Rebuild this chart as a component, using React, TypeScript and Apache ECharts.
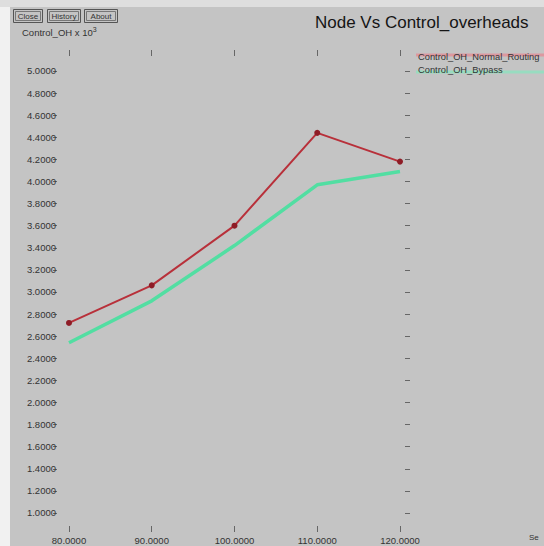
import React, { useEffect, useRef } from "react";
import * as echarts from "echarts";

const xValues = [80, 90, 100, 110, 120];
const normalRouting = [2.72, 3.06, 3.6, 4.44, 4.18];
const bypass = [2.54, 2.92, 3.42, 3.97, 4.09];
const xTicks = [80, 90, 100, 110, 120];
const yTicks = [1.0, 1.2, 1.4, 1.6, 1.8, 2.0, 2.2, 2.4, 2.6, 2.8, 3.0, 3.2, 3.4, 3.6, 3.8, 4.0, 4.2, 4.4, 4.6, 4.8, 5.0];
const seriesNames = ["Control_OH_Normal_Routing", "Control_OH_Bypass"];
const titleText = "Node Vs Control_overheads";
const buttons = ["Close", "History", "About"];
const xUnit = "Se";

export default function App() {
  const ref = useRef<HTMLDivElement>(null);
  useEffect(() => {
    if (!ref.current) return;
    const chart = echarts.init(ref.current, null, { renderer: "svg" });
    const font = "'Liberation Sans', Arial, sans-serif";
    const xMin = 78.55, xMax = 121.21, yMin = 0.882, yMax = 5.19;
    const btnX = [13, 47, 84];
    const btnW = [29, 33, 33];
    const graphic: any[] = [
      { type: "rect", shape: { x: 0, y: 0, width: 10, height: 546 }, style: { fill: "#f1f1f1" }, silent: true },
      { type: "rect", shape: { x: 0, y: 0, width: 544, height: 7 }, style: { fill: "#dedede" }, silent: true },
    ];
    buttons.forEach((b, i) => {
      graphic.push({ type: "rect", shape: { x: btnX[i] + 0.5, y: 9.5, width: btnW[i], height: 13 }, style: { fill: "none", stroke: "#555", lineWidth: 1 }, silent: true });
      graphic.push({ type: "rect", shape: { x: btnX[i] + 2.5, y: 11.5, width: btnW[i] - 4, height: 9 }, style: { fill: "none", stroke: "#777", lineWidth: 1 }, silent: true });
      graphic.push({ type: "text", x: btnX[i] + btnW[i] / 2 + 0.5, y: 16, style: { text: b, fontSize: 8, fontFamily: font, fill: "#333", align: "center", verticalAlign: "middle" }, silent: true });
    });
    graphic.push({
      type: "text", x: 22, y: 32,
      style: {
        text: "{a|Control_OH x 10}{b|3}",
        rich: { a: { fontSize: 9.5, fontFamily: font, fill: "#333" }, b: { fontSize: 7, fontFamily: font, fill: "#333", verticalAlign: "top", padding: [0, 0, 5, 0] } },
        verticalAlign: "middle",
      }, silent: true,
    });
    graphic.push({ type: "text", x: 315, y: 22, style: { text: titleText, fontSize: 17, fontFamily: font, fill: "#151515", verticalAlign: "middle" }, silent: true });
    graphic.push({ type: "line", shape: { x1: 416, y1: 55, x2: 544, y2: 55 }, style: { stroke: "#dc98a0", lineWidth: 3 }, silent: true });
    graphic.push({ type: "text", x: 418, y: 57, style: { text: seriesNames[0], fontSize: 9.3, fontFamily: font, fill: "#333", verticalAlign: "middle" }, silent: true });
    graphic.push({ type: "line", shape: { x1: 416, y1: 72, x2: 544, y2: 72 }, style: { stroke: "#98dcc0", lineWidth: 3 }, silent: true });
    graphic.push({ type: "text", x: 418, y: 70, style: { text: seriesNames[1], fontSize: 9.3, fontFamily: font, fill: "#333", verticalAlign: "middle" }, silent: true });
    graphic.push({ type: "text", x: 529, y: 537, style: { text: xUnit, fontSize: 8, fontFamily: font, fill: "#333", verticalAlign: "middle" }, silent: true });

    const tickStyle = { color: "#666", width: 1 };
    chart.setOption({
      animation: false,
      backgroundColor: "#c4c4c4",
      grid: { left: 57, right: 134, top: 50, bottom: 20, containLabel: false },
      xAxis: [
        {
          type: "value", min: xMin, max: xMax, position: "bottom",
          axisLine: { show: false }, splitLine: { show: false },
          axisTick: { show: true, length: 6, lineStyle: tickStyle, customValues: xTicks },
          axisLabel: { customValues: xTicks, formatter: (v: number) => v.toFixed(4), fontSize: 9.5, fontFamily: font, color: "#333", margin: 9 },
        },
        {
          type: "value", min: xMin, max: xMax, position: "top",
          axisLine: { show: false }, splitLine: { show: false },
          axisTick: { show: true, inside: true, length: 6, lineStyle: tickStyle, customValues: xTicks },
          axisLabel: { show: false },
        },
      ],
      yAxis: [
        {
          type: "value", min: yMin, max: yMax, position: "left",
          axisLine: { show: false }, splitLine: { show: false },
          axisTick: { show: true, length: 4, lineStyle: tickStyle, customValues: yTicks },
          axisLabel: { customValues: yTicks, formatter: (v: number) => v.toFixed(4), fontSize: 9.5, fontFamily: font, color: "#333", margin: 1 },
        },
        {
          type: "value", min: yMin, max: yMax, position: "right",
          axisLine: { show: false }, splitLine: { show: false },
          axisTick: { show: true, inside: true, length: 5, lineStyle: tickStyle, customValues: yTicks },
          axisLabel: { show: false },
        },
      ],
      graphic,
      series: [
        {
          name: seriesNames[1], type: "line", xAxisIndex: 0, yAxisIndex: 0,
          data: xValues.map((x, i) => [x, bypass[i]]),
          showSymbol: false, lineStyle: { color: "#52dea2", width: 3.5 }, itemStyle: { color: "#52dea2" },
        },
        {
          name: seriesNames[0], type: "line", xAxisIndex: 0, yAxisIndex: 0,
          data: xValues.map((x, i) => [x, normalRouting[i]]),
          symbol: "circle", symbolSize: 6, lineStyle: { color: "#b8303a", width: 2 }, itemStyle: { color: "#8e1c26" },
        },
      ],
    });
    return () => chart.dispose();
  }, []);
  return <div ref={ref} style={{ position: "fixed", left: 0, top: 0, width: 544, height: 546 }} />;
}
